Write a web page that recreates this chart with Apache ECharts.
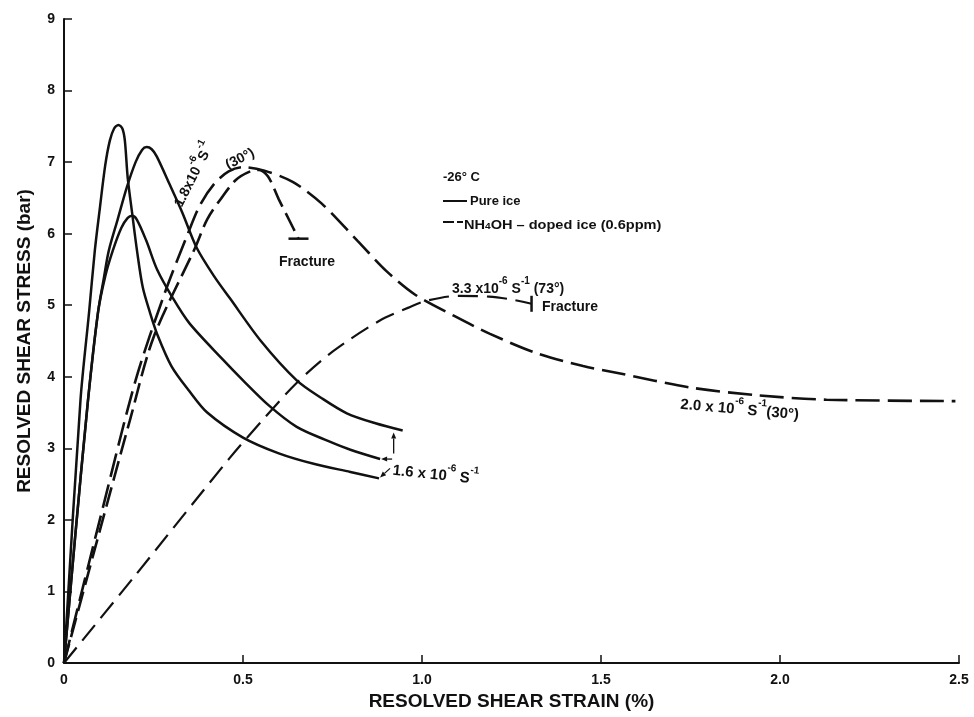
<!DOCTYPE html>
<html>
<head>
<meta charset="utf-8">
<script src="https://cdn.jsdelivr.net/npm/echarts@6/dist/echarts.min.js"></script>
<style>
  html, body { margin: 0; padding: 0; background: #fff; }
  #chart { width: 974px; height: 717px; }
</style>
</head>
<body>
<div id="chart"></div>
<script>
// Axis tick labels
const strainTickLabels = ['0', '0.5', '1.0', '1.5', '2.0', '2.5'];
const stressTickLabels = ['0', '1', '2', '3', '4', '5', '6', '7', '8', '9'];

// Pure ice, 1.6 x 10^-6 s^-1 — [strain %, stress bar]
const pureIceA = [
  [0, 0], [0.046, 3.67], [0.07, 4.9], [0.086, 5.76], [0.1, 6.35], [0.115, 6.95], [0.128, 7.3],
  [0.14, 7.47], [0.152, 7.52], [0.163, 7.47], [0.17, 7.3], [0.178, 6.78], [0.19, 6.3],
  [0.204, 5.76], [0.22, 5.25], [0.24, 4.9], [0.26, 4.6], [0.3, 4.15], [0.35, 3.8], [0.4, 3.5],
  [0.5, 3.15], [0.6, 2.93], [0.7, 2.78], [0.8, 2.67], [0.88, 2.58]
];
const pureIceB = [
  [0, 0], [0.03, 1.7], [0.067, 3.67], [0.095, 4.9], [0.112, 5.4], [0.125, 5.76], [0.15, 6.2],
  [0.175, 6.64], [0.2, 7.0], [0.218, 7.17], [0.231, 7.21], [0.245, 7.18], [0.259, 7.08],
  [0.295, 6.69], [0.33, 6.3], [0.371, 5.8], [0.42, 5.4], [0.463, 5.1], [0.55, 4.5],
  [0.65, 3.95], [0.72, 3.7], [0.79, 3.49], [0.87, 3.35], [0.946, 3.25]
];
const pureIceC = [
  [0, 0], [0.03, 1.7], [0.067, 3.67], [0.095, 4.9], [0.115, 5.4], [0.136, 5.76], [0.16, 6.08],
  [0.178, 6.22], [0.19, 6.25], [0.203, 6.2], [0.23, 5.9], [0.26, 5.5], [0.304, 5.1],
  [0.35, 4.75], [0.442, 4.25], [0.5, 3.95], [0.572, 3.6], [0.65, 3.3], [0.739, 3.1],
  [0.8, 2.98], [0.883, 2.85]
];

// NH4OH-doped ice (0.6 ppm)
const doped20at30 = [
  [0, 0], [0.1, 2.0], [0.2, 3.95], [0.28, 5.15], [0.346, 6.0], [0.38, 6.4], [0.42, 6.7],
  [0.46, 6.87], [0.5, 6.93], [0.56, 6.88], [0.64, 6.72], [0.72, 6.42], [0.82, 5.9],
  [0.9, 5.48], [0.98, 5.15], [1.09, 4.85], [1.19, 4.6], [1.32, 4.33], [1.45, 4.15],
  [1.55, 4.05], [1.75, 3.85], [1.94, 3.74], [2.13, 3.68], [2.49, 3.66]
];
const doped18at30 = [
  [0, 0], [0.1, 1.85], [0.184, 3.39], [0.25, 4.55], [0.366, 5.8], [0.4, 6.2], [0.44, 6.5],
  [0.48, 6.75], [0.52, 6.87], [0.545, 6.89], [0.57, 6.8], [0.6, 6.48], [0.63, 6.18],
  [0.655, 5.93]
];
const doped33at73 = [
  [0, 0], [0.2, 1.23], [0.462, 2.86], [0.554, 3.39], [0.649, 3.91], [0.75, 4.35],
  [0.88, 4.78], [0.964, 4.97], [1.011, 5.06], [1.1, 5.13], [1.187, 5.12], [1.25, 5.08],
  [1.306, 5.02]
];

const FONT = '"Liberation Sans", Arial, sans-serif';
const INK = '#111';

const chart = echarts.init(document.getElementById('chart'), null, { renderer: 'canvas' });

function curve(name, data, dash, width, capSize) {
  const last = data.length - 1;
  return {
    name, type: 'line', data, smooth: 0.3, silent: true,
    symbol: capSize ? 'rect' : 'none',
    symbolSize: capSize ? (v, p) => (p.dataIndex === last ? capSize : 0) : 0,
    showSymbol: !!capSize, showAllSymbol: true,
    itemStyle: { color: INK },
    lineStyle: { color: INK, width, type: dash, cap: 'butt' },
    z: 3
  };
}

chart.setOption({
  animation: false,
  backgroundColor: '#fff',
  grid: { left: 64, right: 15, top: 19, bottom: 54, containLabel: false },
  xAxis: {
    type: 'value', min: 0, max: 2.5, interval: 0.5,
    name: 'RESOLVED SHEAR STRAIN (%)', nameLocation: 'middle', nameGap: 28,
    nameTextStyle: { fontFamily: FONT, fontWeight: 'bold', fontSize: 19, color: INK },
    axisLine: { lineStyle: { color: INK, width: 2 } },
    axisTick: { inside: true, length: 8, lineStyle: { color: INK, width: 1.5 } },
    axisLabel: {
      margin: 10, fontFamily: FONT, fontWeight: 'bold', fontSize: 14, color: INK,
      formatter: v => strainTickLabels[Math.round(v / 0.5)]
    },
    splitLine: { show: false }
  },
  yAxis: {
    type: 'value', min: 0, max: 9, interval: 1,
    name: 'RESOLVED SHEAR STRESS (bar)', nameLocation: 'middle', nameGap: 30, nameRotate: 90,
    nameTextStyle: { fontFamily: FONT, fontWeight: 'bold', fontSize: 19, color: INK },
    axisLine: { lineStyle: { color: INK, width: 2 } },
    axisTick: { inside: true, length: 8, lineStyle: { color: INK, width: 1.5 } },
    axisLabel: {
      margin: 9, fontFamily: FONT, fontWeight: 'bold', fontSize: 14, color: INK,
      formatter: v => stressTickLabels[Math.round(v)]
    },
    splitLine: { show: false }
  },
  series: [
    curve('Pure ice A', pureIceA, 'solid', 2.5),
    curve('Pure ice B', pureIceB, 'solid', 2.5),
    curve('Pure ice C', pureIceC, 'solid', 2.5),
    curve('2.0e-6 (30°)', doped20at30, [24, 8], 2.6),
    curve('1.8e-6 (30°)', doped18at30, [20, 7], 2.6, [20, 2.5]),
    curve('3.3e-6 (73°)', doped33at73, [20, 9], 2.2, [2.5, 16])
  ]
});

// ---- annotations ----
const px = (x, y) => chart.convertToPixel({ gridIndex: 0 }, [x, y]);
const deg = d => d * Math.PI / 180;

const rich = size => ({
  m: { fontFamily: FONT, fontWeight: 'bold', fontSize: size, fill: INK, lineHeight: size + 6, verticalAlign: 'bottom' },
  sup: { fontFamily: FONT, fontWeight: 'bold', fontSize: Math.round(size * 0.68), fill: INK, lineHeight: size + 6, verticalAlign: 'top' },
  sub: { fontFamily: FONT, fontWeight: 'bold', fontSize: Math.round(size * 0.68), fill: INK, lineHeight: size + 4, verticalAlign: 'bottom' }
});

function label(text, at, size, opts = {}) {
  const p = px(at[0], at[1]);
  return {
    type: 'text', x: p[0], y: p[1], rotation: deg(opts.rotate || 0), z: 10, silent: true,
    scaleX: opts.scaleX || 1,
    style: {
      text, rich: rich(size), fill: INK,
      font: 'bold ' + size + 'px ' + FONT,
      align: opts.align || 'center', verticalAlign: 'middle'
    }
  };
}

function arrow(from, tip) {
  const dx = tip[0] - from[0], dy = tip[1] - from[1];
  const len = Math.hypot(dx, dy), ux = dx / len, uy = dy / len;
  const bx = tip[0] - ux * 6, by = tip[1] - uy * 6;
  return [
    { type: 'line', silent: true, z: 10, shape: { x1: from[0], y1: from[1], x2: bx, y2: by }, style: { stroke: INK, lineWidth: 1.3 } },
    { type: 'polygon', silent: true, z: 10, shape: { points: [tip, [bx - uy * 2.5, by + ux * 2.5], [bx + uy * 2.5, by - ux * 2.5]] }, style: { fill: INK } }
  ];
}

const endA = px(...pureIceA[pureIceA.length - 1]);
const endB = px(...pureIceB[pureIceB.length - 1]);
const endC = px(...pureIceC[pureIceC.length - 1]);

const legendX = 443;
const graphics = [
  label('{m|1.8x10}{sup|-6}{m|S}{sup|-1}', [0.356, 6.84], 14, { rotate: 63 }),
  label('{m|(30°)}', [0.488, 7.08], 14, { rotate: 27 }),
  label('{m|Fracture}', [0.679, 5.65], 14),
  label('{m|3.3 x10}{sup|-6}{m| S}{sup|-1}{m| (73°)}', [1.084, 5.27], 14, { align: 'left' }),
  label('{m|Fracture}', [1.335, 5.02], 14, { align: 'left' }),
  label('{m|2.0 x 10}{sup|-6}{m| S}{sup|-1}{m|(30°)}', [1.888, 3.58], 15, { rotate: -5 }),
  label('{m|1.6 x 10}{sup|-6}{m| S}{sup|-1}', [0.919, 2.73], 15, { align: 'left', rotate: -6 }),
  ...arrow([endB[0] - 9, endB[1] + 23], [endB[0] - 9, endB[1] + 2]),
  ...arrow([endC[0] + 12, endC[1]], [endC[0] + 1, endC[1]]),
  ...arrow([endA[0] + 11, endA[1] - 10], [endA[0] + 1, endA[1] - 1]),
  // legend
  { type: 'text', x: legendX, y: 177, silent: true, style: { text: '-26° C', font: 'bold 13px ' + FONT, fill: INK, verticalAlign: 'middle' } },
  { type: 'line', silent: true, shape: { x1: legendX, y1: 201, x2: legendX + 24, y2: 201 }, style: { stroke: INK, lineWidth: 2 } },
  { type: 'text', x: legendX + 27, y: 201, silent: true, style: { text: 'Pure ice', font: 'bold 13px ' + FONT, fill: INK, verticalAlign: 'middle' } },
  { type: 'line', silent: true, shape: { x1: legendX, y1: 222, x2: legendX + 11, y2: 222 }, style: { stroke: INK, lineWidth: 2 } },
  { type: 'line', silent: true, shape: { x1: legendX + 14, y1: 222, x2: legendX + 20, y2: 222 }, style: { stroke: INK, lineWidth: 2 } },
  {
    type: 'text', x: legendX + 21, y: 222, scaleX: 1.12, silent: true,
    style: { text: '{m|NH}{sub|4}{m|OH – doped ice (0.6ppm)}', rich: rich(13), font: 'bold 13px ' + FONT, fill: INK, verticalAlign: 'middle' }
  }
];

chart.setOption({ graphic: graphics });
</script>
</body>
</html>
